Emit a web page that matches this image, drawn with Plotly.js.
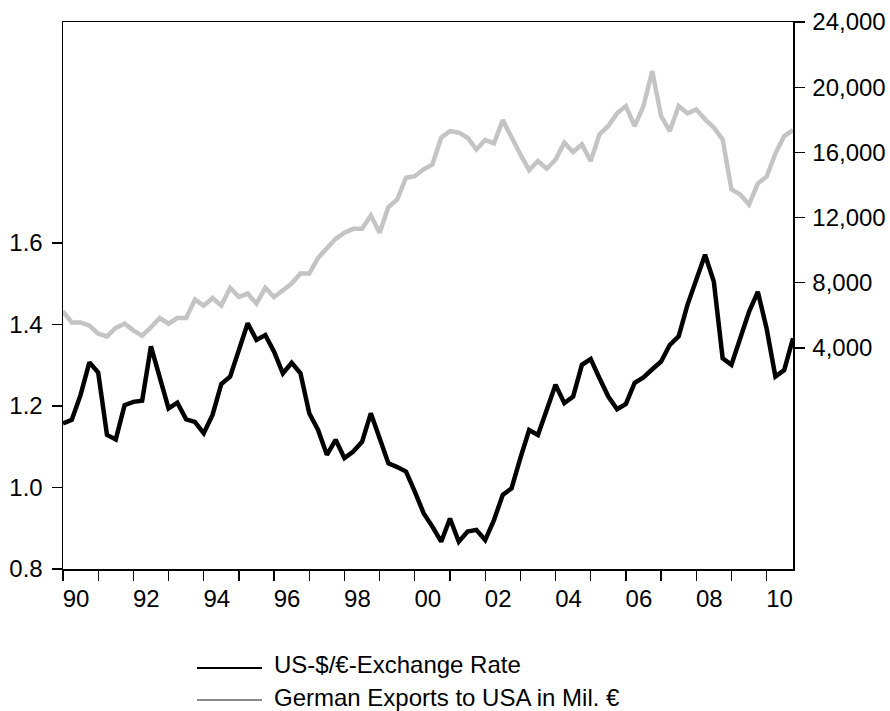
<!DOCTYPE html>
<html>
<head>
<meta charset="utf-8">
<script src="https://cdn.plot.ly/plotly-3.0.1.min.js"></script>
<style>
  html, body { margin: 0; padding: 0; background: #ffffff; }
  #chart { width: 890px; height: 711px; }
</style>
</head>
<body>
<div id="chart"></div>
<script>
// Quarterly observations 1990Q1 .. 2010Q4
const startYear = 1990;
const quartersPerYear = 4;

// US-$ per Euro (left axis)
const exchangeRate = [
  1.157, 1.166, 1.227, 1.307,
  1.282, 1.129, 1.118, 1.202,
  1.210, 1.213, 1.346, 1.265,
  1.194, 1.208, 1.167, 1.161,
  1.133, 1.178, 1.254, 1.272,
  1.335, 1.403, 1.362, 1.374,
  1.333, 1.280, 1.306, 1.280,
  1.182, 1.141, 1.080, 1.117,
  1.072, 1.088, 1.112, 1.182,
  1.121, 1.059, 1.050, 1.039,
  0.990, 0.937, 0.904, 0.867,
  0.924, 0.867, 0.892, 0.896,
  0.871, 0.920, 0.982, 0.998,
  1.072, 1.141, 1.129, 1.194,
  1.252, 1.207, 1.223, 1.301,
  1.315, 1.268, 1.223, 1.192,
  1.205, 1.257, 1.270, 1.290,
  1.309, 1.350, 1.371, 1.448,
  1.509, 1.571, 1.505, 1.317,
  1.301, 1.362, 1.431, 1.480,
  1.390, 1.272, 1.288, 1.366
];

// German exports to USA in Mil. Euro (right axis)
const exports = [
  6250, 5570, 5570, 5370,
  4880, 4710, 5230, 5490,
  5080, 4760, 5270, 5840,
  5490, 5840, 5840, 6970,
  6600, 7070, 6600, 7690,
  7130, 7340, 6720, 7690,
  7130, 7540, 7950, 8570,
  8570, 9530, 10140, 10700,
  11070, 11310, 11310, 12130,
  11070, 12650, 13110, 14450,
  14540, 14960, 15260, 16900,
  17310, 17210, 16900, 16180,
  16760, 16550, 17980, 16900,
  15880, 14910, 15470, 15000,
  15560, 16600, 16020, 16490,
  15470, 17110, 17620, 18400,
  18840, 17620, 18840, 20990,
  18230, 17310, 18840, 18400,
  18640, 18030, 17520, 16800,
  13730, 13420, 12800, 14090,
  14510, 15940, 17000, 17370
];

const tickYears = [1990,1991,1992,1993,1994,1995,1996,1997,1998,1999,2000,
                   2001,2002,2003,2004,2005,2006,2007,2008,2009,2010];
const tickLabels = ["90","","92","","94","","96","","98","","00",
                    "","02","","04","","06","","08","","10"];
const leftTicks = [0.8, 1.0, 1.2, 1.4, 1.6];
const rightTicks = [4000, 8000, 12000, 16000, 20000, 24000];
const seriesNames = ["US-$/€-Exchange Rate", "German Exports to USA in Mil. €"];

const xTime = exchangeRate.map((_, i) => startYear + i / quartersPerYear);

const FONT = "Liberation Sans, Arial, Helvetica, sans-serif";
const fs = 24;

// plot area in pixels
const L = 63, R = 793, T = 22, B = 569;
const px = x => (x - L) / (R - L);
const py = y => (B - y) / (B - T);

const traces = [
  {
    x: xTime, y: exports, yaxis: 'y2', type: 'scatter', mode: 'lines',
    name: seriesNames[1], line: { color: '#c4c4c4', width: 4.5 },
    showlegend: false, hoverinfo: 'skip'
  },
  {
    x: xTime, y: exchangeRate, yaxis: 'y', type: 'scatter', mode: 'lines',
    name: seriesNames[0], line: { color: '#000000', width: 4.5 },
    showlegend: false, hoverinfo: 'skip'
  }
];

const layout = {
  width: 890, height: 711,
  margin: { l: L, r: 890 - R, t: T, b: 711 - B, pad: 0 },
  paper_bgcolor: '#ffffff', plot_bgcolor: '#ffffff',
  font: { family: FONT, size: fs, color: '#000000' },
  showlegend: false,
  xaxis: {
    range: [startYear, startYear + (xTime.length - 1) / quartersPerYear],
    tickmode: 'array', tickvals: tickYears, ticktext: tickLabels,
    ticks: 'outside', ticklen: 10, tickwidth: 1.3, tickcolor: '#000',
    ticklabelshift: 13, ticklabelstandoff: -2,
    showgrid: false, zeroline: false,
    showline: true, linecolor: '#000', linewidth: 1.5, mirror: true,
    tickfont: { family: FONT, size: fs, color: '#000' }
  },
  yaxis: {
    range: [0.8, 2.142],
    tickmode: 'array', tickvals: leftTicks,
    tickformat: '.1f',
    ticks: 'outside', ticklen: 10, tickwidth: 1.3, tickcolor: '#000',
    ticklabelstandoff: 4,
    showgrid: false, zeroline: false,
    showline: true, linecolor: '#000', linewidth: 1.5,
    tickfont: { family: FONT, size: fs, color: '#000' }
  },
  yaxis2: {
    overlaying: 'y', side: 'right',
    range: [-9560, 24000],
    tickmode: 'array', tickvals: rightTicks,
    tickformat: ',d',
    ticks: 'outside', ticklen: 10, tickwidth: 1.3, tickcolor: '#000',
    ticklabelstandoff: 3,
    showgrid: false, zeroline: false,
    showline: true, linecolor: '#000', linewidth: 1.5,
    tickfont: { family: FONT, size: fs, color: '#000' }
  },
  shapes: [
    { type: 'line', xref: 'paper', yref: 'paper',
      x0: px(197), x1: px(262), y0: py(668), y1: py(668),
      line: { color: '#000000', width: 2 } },
    { type: 'line', xref: 'paper', yref: 'paper',
      x0: px(197), x1: px(262), y0: py(700), y1: py(700),
      line: { color: '#8a8a8a', width: 2 } }
  ],
  annotations: [
    { xref: 'paper', yref: 'paper', x: px(272), y: py(665),
      xanchor: 'left', yanchor: 'middle', showarrow: false,
      text: seriesNames[0], font: { family: FONT, size: fs, color: '#000' } },
    { xref: 'paper', yref: 'paper', x: px(272), y: py(697),
      xanchor: 'left', yanchor: 'middle', showarrow: false,
      text: seriesNames[1], font: { family: FONT, size: fs, color: '#000' } }
  ]
};

Plotly.newPlot('chart', traces, layout, { staticPlot: true, displayModeBar: false });
</script>
</body>
</html>
